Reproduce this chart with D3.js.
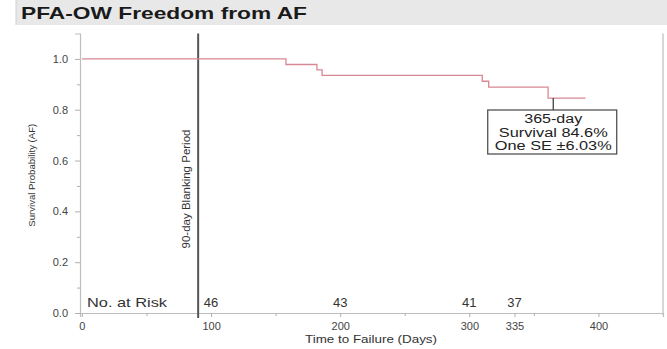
<!DOCTYPE html>
<html>
<head>
<meta charset="utf-8">
<script src="https://cdn.jsdelivr.net/npm/d3@7"></script>
<style>
  html, body { margin: 0; padding: 0; background: #fff; }
  svg { display: block; font-family: "Liberation Sans", Arial, Helvetica, sans-serif; }
</style>
</head>
<body>
<svg id="chart" width="667" height="349"></svg>
<script>
// Kaplan-Meier estimate: freedom from AF after PFA-OW
const eventDays = [0, 158, 182, 186, 310, 315, 361, 390];
const survival  = [1.0, 0.978, 0.957, 0.935, 0.912, 0.889, 0.846, 0.846];

// Numbers at risk shown along the bottom of the plot
const riskDays   = [100, 200, 300, 335];
const riskCounts = [46, 43, 41, 37];

// Axis ticks
const xTicks      = [0, 100, 200, 300, 335, 400];
const xMinorTicks = [50, 150, 250, 350];
const yTicks      = [0, 0.2, 0.4, 0.6, 0.8, 1.0];
const yMinorTicks = [0.1, 0.3, 0.5, 0.7, 0.9];

// Blanking period and 365-day summary
const blankingDay = 90;
const summaryDay = 365;
const summaryValue = 0.846;
const summaryLines = ["365-day", "Survival 84.6%", "One SE \u00b16.03%"];
const summaryWidths = [58, 109, 117];

const svg = d3.select("#chart");

const plotLeft = 80, plotRight = 663, plotTop = 33.5, plotBottom = 313;
const x = d3.scaleLinear().domain([-1.5, 450]).range([plotLeft, plotRight]);
const y = d3.scaleLinear().domain([0, 1.1]).range([plotBottom, plotTop]);

// Title band
svg.append("rect").attr("x", 16).attr("y", 0).attr("width", 651).attr("height", 25)
  .attr("fill", "#e8e8e8");
svg.append("line").attr("x1", 16).attr("x2", 16).attr("y1", 0).attr("y2", 25)
  .attr("stroke", "#d0d0d0");
svg.append("text").attr("x", 21).attr("y", 18.5)
  .attr("font-size", 16.5).attr("font-weight", "bold").attr("fill", "#1a1a1a")
  .attr("textLength", 286).attr("lengthAdjust", "spacingAndGlyphs")
  .text("PFA-OW Freedom from AF");

// Plot frame (right side)
svg.append("line").attr("x1", plotRight).attr("x2", plotRight).attr("y1", plotTop).attr("y2", plotBottom + 2)
  .attr("stroke", "#bdbdbd").attr("stroke-width", 1.2);

// Y axis
svg.append("g").attr("transform", `translate(${plotLeft},0)`)
  .call(d3.axisLeft(y).tickValues(yTicks).tickFormat(d3.format(".1f")).tickSize(5).tickPadding(7));
svg.append("g").attr("transform", `translate(${plotLeft},0)`)
  .call(d3.axisLeft(y).tickValues(yMinorTicks).tickFormat("").tickSize(3))
  .call(g => g.select(".domain").remove());

// X axis
svg.append("g").attr("transform", `translate(0,${plotBottom})`)
  .call(d3.axisBottom(x).tickValues(xTicks).tickFormat(d3.format("d")).tickSize(4).tickPadding(5));
svg.append("g").attr("transform", `translate(0,${plotBottom})`)
  .call(d3.axisBottom(x).tickValues(xMinorTicks).tickFormat("").tickSize(3))
  .call(g => g.select(".domain").remove());

svg.selectAll(".domain").attr("stroke", "#bdbdbd").attr("stroke-width", 1.2);
svg.selectAll(".tick line").attr("stroke", "#b0b0b0");
svg.selectAll(".tick text").attr("fill", "#444").attr("font-size", 11)
  .attr("font-family", "\"Liberation Sans\", Arial, sans-serif");

// Axis titles
svg.append("text")
  .attr("transform", `translate(35,${(plotTop + plotBottom) / 2 + 2}) rotate(-90)`)
  .attr("text-anchor", "middle").attr("font-size", 9.5).attr("fill", "#333")
  .attr("textLength", 103).attr("lengthAdjust", "spacingAndGlyphs")
  .text("Survival Probability (AF)");
svg.append("text").attr("x", 371).attr("y", 343)
  .attr("text-anchor", "middle").attr("font-size", 11).attr("fill", "#333")
  .attr("textLength", 132).attr("lengthAdjust", "spacingAndGlyphs")
  .text("Time to Failure (Days)");

// Blanking period marker
svg.append("line")
  .attr("x1", x(blankingDay)).attr("x2", x(blankingDay))
  .attr("y1", plotTop).attr("y2", plotBottom + 5)
  .attr("stroke", "#555").attr("stroke-width", 2);
svg.append("text")
  .attr("transform", `translate(${x(blankingDay) - 8},${189}) rotate(-90)`)
  .attr("text-anchor", "middle").attr("font-size", 11.5).attr("fill", "#333")
  .text("90-day Blanking Period");

// Survival curve
const pts = eventDays.map((d, i) => [d, survival[i]]);
svg.append("path").datum(pts)
  .attr("fill", "none").attr("stroke", "#d98893").attr("stroke-width", 1.3)
  .attr("d", d3.line().x(d => x(d[0])).y(d => y(d[1])).curve(d3.curveStepAfter));

// Numbers at risk
svg.append("text").attr("x", 87).attr("y", 307)
  .attr("font-size", 13).attr("fill", "#333")
  .attr("textLength", 80).attr("lengthAdjust", "spacingAndGlyphs")
  .text("No. at Risk");
svg.selectAll(".risk").data(riskDays).enter().append("text")
  .attr("x", d => x(d)).attr("y", 307)
  .attr("text-anchor", "middle").attr("font-size", 13).attr("fill", "#333")
  .text((d, i) => riskCounts[i]);

// 365-day summary box
const bx = x(summaryDay), boxW = 129, boxTop = 110, boxH = 44;
svg.append("line").attr("x1", bx).attr("x2", bx)
  .attr("y1", y(summaryValue)).attr("y2", boxTop)
  .attr("stroke", "#333").attr("stroke-width", 1.2);
svg.append("rect").attr("x", bx - boxW / 2 - 1).attr("y", boxTop)
  .attr("width", boxW).attr("height", boxH)
  .attr("fill", "#fff").attr("stroke", "#444").attr("stroke-width", 1.2);
svg.selectAll(".summary").data(summaryLines).enter().append("text")
  .attr("x", bx).attr("y", (d, i) => boxTop + 13 + i * 13.5)
  .attr("text-anchor", "middle").attr("font-size", 12.5).attr("fill", "#222")
  .attr("textLength", (d, i) => summaryWidths[i]).attr("lengthAdjust", "spacingAndGlyphs")
  .text(d => d);
</script>
</body>
</html>
